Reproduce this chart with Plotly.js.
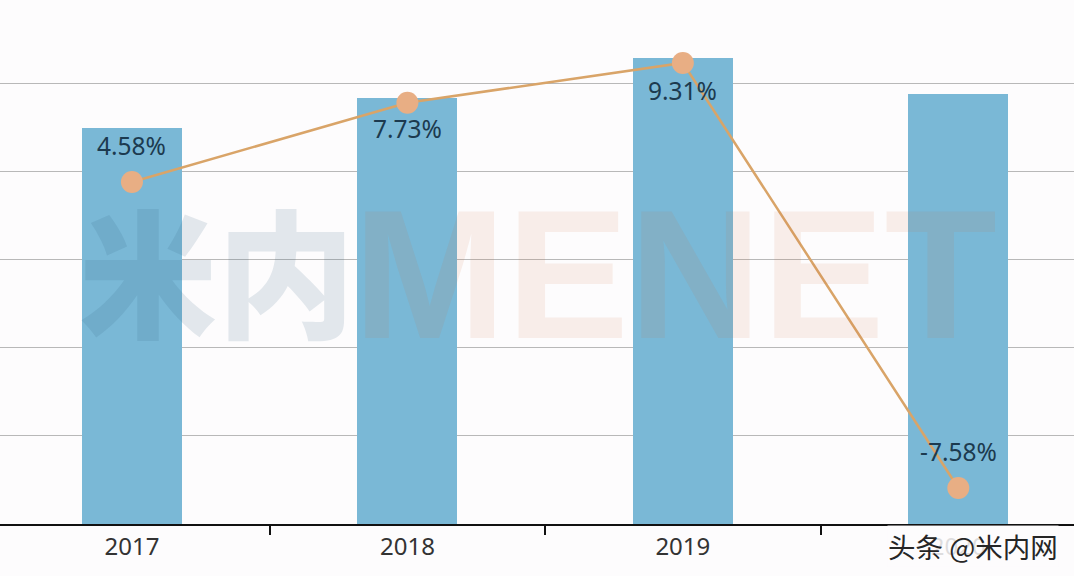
<!DOCTYPE html>
<html><head><meta charset="utf-8">
<script src="https://cdn.plot.ly/plotly-3.0.1.min.js"></script>
<style>html,body{margin:0;padding:0;background:#fdfcfd}</style></head>
<body><div id="chart" style="width:1074px;height:576px"></div>
<script>
const years = ["2017","2018","2019","2020"];
const barValues = [449,483,528,487];
const growthRates = [4.58,7.73,9.31,-7.58];
const rateLabels = ["4.58%","7.73%","9.31%","-7.58%"];
const labelShifts = [36,-26,-28,37];
const watermarkCn = "米内";
const watermarkEn = "MENET";
const credit = "头条 @米内网";

const font = '"Noto Sans", sans-serif';
const cjk = '"Noto Sans CJK SC", sans-serif';

const traces = [
  {type:"bar", x:years, y:barValues, width:0.363,
   marker:{color:"#7ab8d6", line:{width:0}}, hoverinfo:"skip"},
  {type:"scatter", mode:"lines+markers", x:years, y:growthRates, yaxis:"y2",
   line:{color:"#d9a468", width:2.5},
   marker:{color:"#e8ae84", size:22}, hoverinfo:"skip"}
];

const annotations = [
  {text:watermarkCn, xref:"paper", yref:"paper", x:217/1074, y:1-267/524, xanchor:"center", yanchor:"middle",
   showarrow:false, font:{family:cjk, size:138, weight:900, color:"rgba(50,90,120,0.13)"}},
  {text:watermarkEn, xref:"paper", yref:"paper", x:675/1074, y:1-274/524, xanchor:"center", yanchor:"middle",
   showarrow:false, font:{family:'"Liberation Sans", sans-serif', size:184, weight:700, color:"rgba(210,110,60,0.1)"}},
  {text:credit, xref:"paper", yref:"paper", x:973/1074, y:-22/524, xanchor:"center", yanchor:"middle",
   showarrow:false, borderpad:0, bgcolor:"rgba(253,252,253,0.85)", font:{family:cjk, size:27.5, color:"#262626"}}
];
rateLabels.forEach((t,i)=>annotations.push({
  text:t, x:i, y:growthRates[i], xref:"x", yref:"y2", yshift:labelShifts[i],
  xanchor:"center", yanchor:"middle", showarrow:false,
  font:{family:font, size:24.5, color:"#1c3a4f"}
}));

const layout = {
  width:1074, height:576,
  margin:{l:0,r:0,t:0,b:52,pad:0},
  paper_bgcolor:"#fdfcfd", plot_bgcolor:"#fdfcfd",
  showlegend:false, bargap:0,
  xaxis:{type:"category", categoryorder:"array", categoryarray:years,
    range:[-0.479,3.42], tickson:"boundaries", ticks:"outside", ticklen:9, tickwidth:2, tickcolor:"#111",
    showline:true, linecolor:"#111", linewidth:2, showgrid:false, zeroline:false,
    tickfont:{family:font, size:24, color:"#333"}, automargin:false},
  yaxis:{range:[0,594.1], dtick:100, tick0:0, showticklabels:false, ticks:"",
    showgrid:true, gridcolor:"#b8b8b8", gridwidth:1, zeroline:false, showline:false},
  yaxis2:{overlaying:"y", side:"right", range:[-9.01,11.81], showgrid:false, zeroline:false,
    showticklabels:false, ticks:"", showline:false},
  annotations:annotations
};
Plotly.newPlot("chart", traces, layout, {displayModeBar:false, staticPlot:true});
</script></body></html>
